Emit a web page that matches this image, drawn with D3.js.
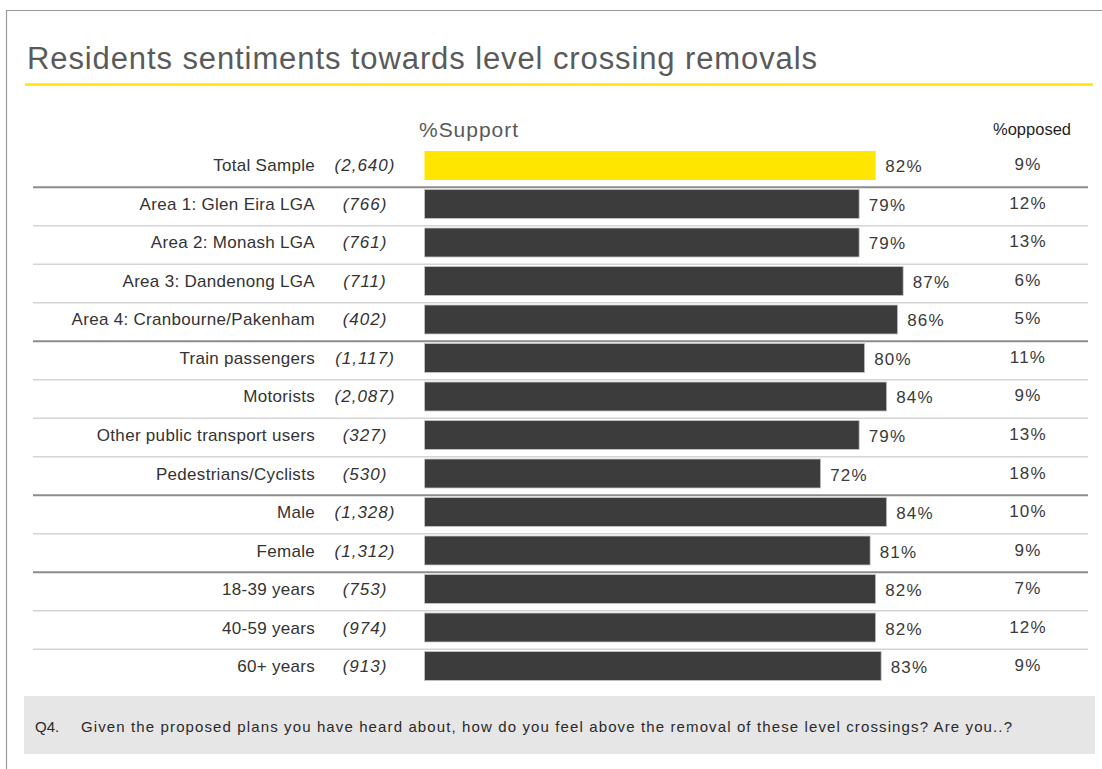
<!DOCTYPE html>
<html>
<head>
<meta charset="utf-8">
<script src="https://cdn.jsdelivr.net/npm/d3@7"></script>
<style>
  html, body { margin: 0; padding: 0; background: #fff; }
  svg { display: block; font-family: "Liberation Sans", Arial, Helvetica, sans-serif; }
</style>
</head>
<body>
<svg id="chart" width="1102" height="769"></svg>
<script>
// Survey groups, sample sizes and results
const categories = [
  "Total Sample", "Area 1: Glen Eira LGA", "Area 2: Monash LGA", "Area 3: Dandenong LGA",
  "Area 4: Cranbourne/Pakenham", "Train passengers", "Motorists", "Other public transport users",
  "Pedestrians/Cyclists", "Male", "Female", "18-39 years", "40-59 years", "60+ years"
];
const sampleSizes = [
  "(2,640)", "(766)", "(761)", "(711)", "(402)", "(1,117)", "(2,087)", "(327)",
  "(530)", "(1,328)", "(1,312)", "(753)", "(974)", "(913)"
];
const support = [82, 79, 79, 87, 86, 80, 84, 79, 72, 84, 81, 82, 82, 83];
const opposed = [9, 12, 13, 6, 5, 11, 9, 13, 18, 10, 9, 7, 12, 9];
// rows after which a heavier group divider is drawn
const groupEnds = ["Total Sample", "Area 4: Cranbourne/Pakenham", "Pedestrians/Cyclists", "Female"];

const titleText = "Residents sentiments towards level crossing removals";
const supportHeader = "%Support";
const opposedHeader = "%opposed";
const questionNo = "Q4.";
const questionText = "Given the proposed plans you have heard about, how do you feel above the removal of these level crossings? Are you..?";

const rows = categories.map((c, i) => ({
  cat: c, n: sampleSizes[i], support: support[i], opposed: opposed[i], i
}));

const svg = d3.select("#chart");

// slide frame
svg.append("path")
  .attr("d", "M6.5,769 L6.5,10.5 L1102,10.5")
  .attr("fill", "none").attr("stroke", "#9a9a9a").attr("stroke-width", 1.2);

// title and yellow rule
svg.append("text")
  .attr("x", 27).attr("y", 69)
  .attr("font-size", 31).attr("fill", "#5a5a5a")
  .attr("textLength", 790).attr("lengthAdjust", "spacing")
  .text(titleText);
svg.append("line")
  .attr("x1", 25).attr("x2", 1093).attr("y1", 84.5).attr("y2", 84.5)
  .attr("stroke", "#ffe600").attr("stroke-width", 2.5);

// scales
const x = d3.scaleLinear().domain([0, 100]).range([424.5, 974.7]);
const y = d3.scaleBand().domain(categories).range([151, 680.5]).paddingInner(0.247).paddingOuter(0);
const step = y.step();
const bh = y.bandwidth();

// column headers
svg.append("text")
  .attr("x", 419).attr("y", 137)
  .attr("font-size", 21).attr("fill", "#595959")
  .attr("textLength", 99).attr("lengthAdjust", "spacing")
  .text(supportHeader);
svg.append("text")
  .attr("x", 1032).attr("y", 135).attr("text-anchor", "middle")
  .attr("font-size", 16.5).attr("fill", "#1f1f1f")
  .text(opposedHeader);

// row dividers
const dividers = rows.slice(0, -1);
svg.append("g").selectAll("line").data(dividers).join("line")
  .attr("x1", 33).attr("x2", 1088)
  .attr("y1", d => y(d.cat) + step - 2.3)
  .attr("y2", d => y(d.cat) + step - 2.3)
  .attr("stroke", d => groupEnds.includes(d.cat) ? "#8c8c8c" : "#d4d4d4")
  .attr("stroke-width", d => groupEnds.includes(d.cat) ? 2 : 1.5);

// bars
svg.append("g").selectAll("rect").data(rows).join("rect")
  .attr("x", x(0))
  .attr("y", d => y(d.cat))
  .attr("width", d => x(d.support) - x(0))
  .attr("height", bh)
  .attr("fill", d => d.i === 0 ? "#ffe600" : "#3c3c3c")
  .attr("stroke", d => d.i === 0 ? "none" : "#c8c8c8")
  .attr("stroke-width", 0.8);

// category labels
svg.append("g").selectAll("text").data(rows).join("text")
  .attr("x", 315).attr("y", d => y(d.cat) + bh / 2 + 6)
  .attr("text-anchor", "end")
  .attr("font-size", 17).attr("fill", "#333")
  .attr("letter-spacing", 0.3)
  .text(d => d.cat);

// sample sizes
svg.append("g").selectAll("text").data(rows).join("text")
  .attr("x", 365).attr("y", d => y(d.cat) + bh / 2 + 6)
  .attr("text-anchor", "middle")
  .attr("font-size", 17).attr("font-style", "italic").attr("fill", "#333")
  .attr("letter-spacing", 1)
  .text(d => d.n);

// support values
svg.append("g").selectAll("text").data(rows).join("text")
  .attr("x", d => x(d.support) + 9.5).attr("y", d => y(d.cat) + bh / 2 + 7)
  .attr("font-size", 17).attr("fill", "#3a3a3a")
  .attr("letter-spacing", 1.2)
  .text(d => d.support + "%");

// opposed values
svg.append("g").selectAll("text").data(rows).join("text")
  .attr("x", 1028).attr("y", d => y(d.cat) + bh / 2 + 5)
  .attr("text-anchor", "middle")
  .attr("font-size", 17).attr("fill", "#3a3a3a")
  .attr("letter-spacing", 1.2)
  .text(d => d.opposed + "%");

// question footnote
svg.append("rect")
  .attr("x", 24).attr("y", 696).attr("width", 1071).attr("height", 58)
  .attr("fill", "#e6e6e6");
svg.append("text")
  .attr("x", 35).attr("y", 731.5)
  .attr("font-size", 15).attr("fill", "#2a2a2a")
  .text(questionNo);
svg.append("text")
  .attr("x", 81).attr("y", 731.5)
  .attr("font-size", 15).attr("fill", "#2a2a2a")
  .attr("textLength", 931).attr("lengthAdjust", "spacing")
  .text(questionText);
</script>
</body>
</html>
